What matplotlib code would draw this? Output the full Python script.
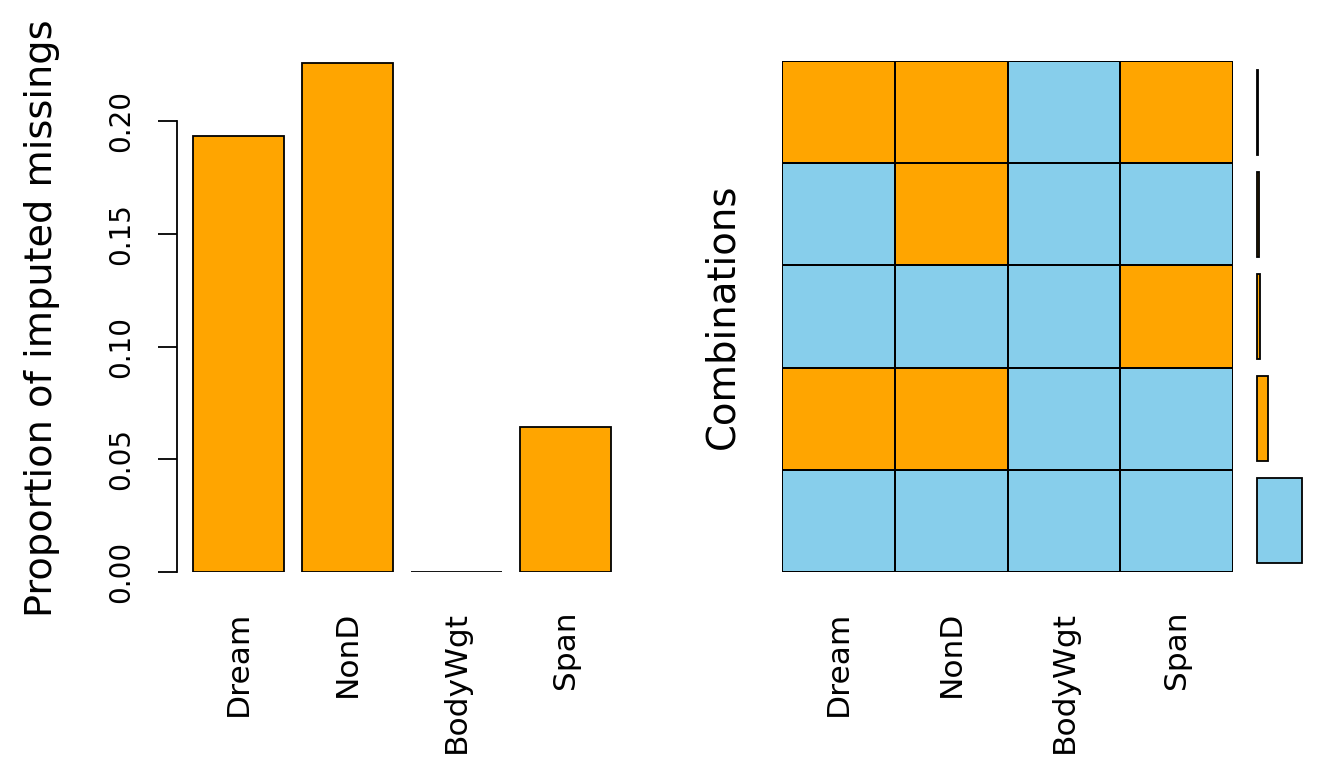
import numpy as np
import matplotlib
matplotlib.use("Agg")
import matplotlib.pyplot as plt
from matplotlib.colors import ListedColormap

# data: sleep data, imputed missings
variables = ["Dream", "NonD", "BodyWgt", "Span"]
prop_imputed = [12 / 62, 14 / 62, 0.0, 4 / 62]
yticks = [0.00, 0.05, 0.10, 0.15, 0.20]
ytick_labels = ["0.00", "0.05", "0.10", "0.15", "0.20"]

# combinations, listed bottom to top (1 = imputed)
combos = [
    [0, 0, 0, 0],
    [1, 1, 0, 0],
    [0, 0, 0, 1],
    [0, 1, 0, 0],
    [1, 1, 0, 1],
]
combo_counts = [45, 11, 3, 2, 1]

ORANGE = "#FFA500"
SKY = "#87CEEB"
W, H = 1344, 768
LW = 1.3

fig = plt.figure(figsize=(W / 100, H / 100), dpi=100)
plt.rcParams["font.family"] = "DejaVu Sans"


def box(x0, x1, y0, y1):
    # pixel box (top-left origin) -> figure fraction rect
    return [x0 / W, (H - y1) / H, (x1 - x0) / W, (y1 - y0) / H]


######### left: proportions #########
ylim_top = 0.235
px_per_unit = (572 - 121) / 0.20
ax1 = fig.add_axes(box(176.5, 628, 572 - ylim_top * px_per_unit, 572))
xpos = 0.7 + 1.2 * np.arange(len(variables))
ax1.bar(xpos, prop_imputed, width=1.0, color=ORANGE, edgecolor="black", linewidth=LW)
ax1.set_xlim(0.016, 4.984)
ax1.set_ylim(0, ylim_top)
for s in ["top", "right", "bottom"]:
    ax1.spines[s].set_visible(False)
ax1.spines["left"].set_bounds(0, 0.20)
ax1.spines["left"].set_linewidth(LW)
ax1.set_yticks(yticks)
ax1.set_yticklabels(ytick_labels, rotation=90, va="center", fontsize=20)
ax1.tick_params(axis="y", length=14, width=LW, pad=16)
ax1.set_xticks(xpos)
ax1.set_xticklabels(variables, rotation=90, va="top", ha="center", fontsize=22.5)
ax1.tick_params(axis="x", length=0, pad=28)
fig.text(42 / W, 1 - 318 / H, "Proportion of imputed missings", rotation=90,
         ha="center", va="center", fontsize=27.5)

######### right: combinations #########
ax2 = fig.add_axes(box(782, 1233, 61, 572))
grid = np.array(combos)
ax2.pcolormesh(np.arange(5), np.arange(6), grid, cmap=ListedColormap([SKY, ORANGE]),
               vmin=0, vmax=1, edgecolors="black", linewidth=LW)
ax2.set_xlim(0, 4)
ax2.set_ylim(0, 5)
for s in ax2.spines.values():
    s.set_visible(False)
ax2.set_yticks([])
ax2.set_xticks(np.arange(4) + 0.5)
ax2.set_xticklabels(variables, rotation=90, va="top", ha="center", fontsize=22.5)
ax2.tick_params(axis="x", length=0, pad=28)
fig.text(722 / W, 1 - 316 / H, "Combinations", rotation=90,
         ha="center", va="center", fontsize=27.8)

ax3 = fig.add_axes(box(1257, 1302, 61, 572))
bar_cols = [SKY] + [ORANGE] * (len(combo_counts) - 1)
ax3.barh(np.arange(5) + 0.5, combo_counts, height=1 / 1.2, color=bar_cols,
         edgecolor="black", linewidth=LW, clip_on=False)
ax3.set_xlim(0, max(combo_counts))
ax3.set_ylim(0, 5)
ax3.axis("off")

fig.savefig("out.png", dpi=100)
